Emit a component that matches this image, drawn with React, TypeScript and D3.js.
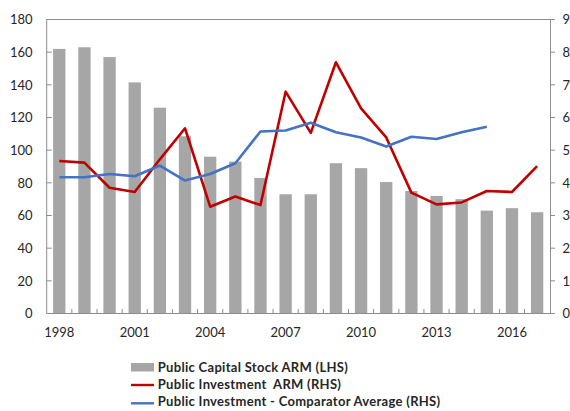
import React from "react";
import * as d3 from "d3";

const years = [1998, 1999, 2000, 2001, 2002, 2003, 2004, 2005, 2006, 2007, 2008, 2009, 2010, 2011, 2012, 2013, 2014, 2015, 2016, 2017];
const capitalStock = [162, 163, 157, 141.5, 126, 108.5, 96, 93, 83, 73, 73, 92, 89, 80.5, 75, 72, 70, 63, 64.5, 62];
const investmentARM = [4.67, 4.62, 3.85, 3.72, 4.72, 5.67, 3.27, 3.58, 3.32, 6.79, 5.53, 7.69, 6.28, 5.39, 3.7, 3.34, 3.4, 3.75, 3.72, 4.51];
const investmentComparator = [4.17, 4.17, 4.27, 4.2, 4.53, 4.07, 4.27, 4.6, 5.57, 5.6, 5.84, 5.55, 5.39, 5.11, 5.41, 5.34, 5.55, 5.72, null, null];
const leftTicks = [0, 20, 40, 60, 80, 100, 120, 140, 160, 180];
const rightTicks = [0, 1, 2, 3, 4, 5, 6, 7, 8, 9];
const xLabelYears = [1998, 2001, 2004, 2007, 2010, 2013, 2016];
const legendLabels = [
  "Public Capital Stock ARM (LHS)",
  "Public Investment  ARM (RHS)",
  "Public Investment - Comparator Average (RHS)",
];

const W = 570;
const H = 411;
const left = 46.7;
const right = 550.5;
const top = 19.5;
const bottom = 313.5;
const axisColor = "#8c8c8c";
const barColor = "#a6a6a6";
const red = "#c00000";
const blue = "#4472c4";
const font = "Lato, 'Open Sans', sans-serif";

export default function App() {
  const x = d3.scaleBand<number>().domain(years).range([left, right - 0.8]).paddingInner(0).paddingOuter(0);
  const yL = d3.scaleLinear().domain([0, 180]).range([bottom, top]);
  const yR = d3.scaleLinear().domain([0, 9]).range([bottom, top]);
  const bw = x.bandwidth();
  const barW = bw * 0.49;
  const cx = (yr: number) => (x(yr) as number) + bw / 2;

  const redLine = d3
    .line<number>()
    .x((_, i) => cx(years[i]))
    .y((d) => yR(d));
  const blueLine = d3
    .line<number | null>()
    .defined((d) => d != null)
    .x((_, i) => cx(years[i]))
    .y((d) => yR(d as number));

  return (
    <svg width={W} height={H} style={{ position: "absolute", left: 0, top: 0, fontFamily: font }}>
      <rect x={0} y={0} width={W} height={H} fill="#fff" />
      {years.map((yr, i) => (
        <rect
          key={yr}
          x={cx(yr) - barW / 2}
          y={yL(capitalStock[i])}
          width={barW}
          height={bottom - yL(capitalStock[i])}
          fill={barColor}
        />
      ))}
      {/* axes */}
      <line x1={left} x2={right} y1={top} y2={top} stroke={axisColor} strokeWidth={1} />
      <line x1={left} x2={left} y1={top} y2={bottom} stroke={axisColor} strokeWidth={1} />
      <line x1={right} x2={right} y1={top} y2={bottom} stroke={axisColor} strokeWidth={1} />
      <line x1={left} x2={right + 4.5} y1={bottom} y2={bottom} stroke={axisColor} strokeWidth={1.2} />
      {leftTicks.map((t) => (
        <g key={"l" + t}>
          <line x1={left} x2={left + 5} y1={yL(t)} y2={yL(t)} stroke={axisColor} />
          <text x={32.5} y={yL(t)} dy="0.36em" textAnchor="end" fontSize={13} fill="#262626">
            {t}
          </text>
        </g>
      ))}
      {rightTicks.map((t) => (
        <g key={"r" + t}>
          <line x1={right} x2={right + 4.5} y1={yR(t)} y2={yR(t)} stroke={axisColor} />
          <text x={562.5} y={yR(t)} dy="0.36em" textAnchor="start" fontSize={13} fill="#262626">
            {t}
          </text>
        </g>
      ))}
      {years.slice(1).map((yr) => (
        <line key={"xt" + yr} x1={x(yr) as number} x2={x(yr) as number} y1={bottom} y2={bottom - 4.5} stroke={axisColor} />
      ))}
      {xLabelYears.map((yr) => (
        <text key={"xl" + yr} x={cx(yr)} y={337} textAnchor="middle" fontSize={13} fill="#262626">
          {yr}
        </text>
      ))}
      <path d={redLine(investmentARM) || ""} fill="none" stroke={red} strokeWidth={2.6} strokeLinejoin="round" />
      <path d={blueLine(investmentComparator) || ""} fill="none" stroke={blue} strokeWidth={2.6} strokeLinejoin="round" />
      {/* legend */}
      <rect x={131} y={363} width={23} height={8.5} fill={barColor} />
      <line x1={131} x2={154} y1={385} y2={385} stroke={red} strokeWidth={2.4} />
      <line x1={131} x2={154} y1={403.3} y2={403.3} stroke={blue} strokeWidth={2.4} />
      {legendLabels.map((l, i) => (
        <text
          key={l}
          x={157.8}
          y={371.7 + i * 17.2}
          fontSize={13}
          fontWeight="bold"
          letterSpacing={0.3}
          fill="#262626"
          style={{ whiteSpace: "pre" }}
        >
          {l}
        </text>
      ))}
    </svg>
  );
}
